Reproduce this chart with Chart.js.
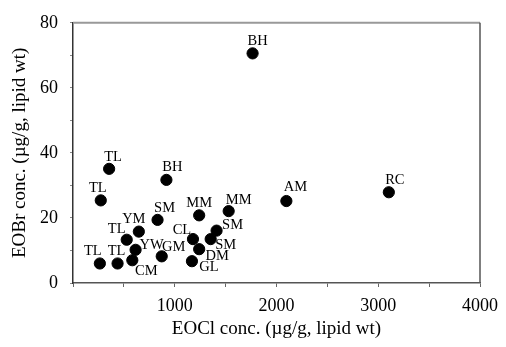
<!DOCTYPE html>
<html>
<head>
<meta charset="utf-8">
<script src="https://cdn.jsdelivr.net/npm/chart.js@4/dist/chart.umd.min.js"></script>
<style>
  html, body { margin: 0; padding: 0; background: #fff; }
  #wrap { width: 506px; height: 347px; }
</style>
</head>
<body>
<div id="wrap"><canvas id="chart" width="506" height="347"></canvas></div>
<script>
// site codes and concentrations (ug/g lipid wt)
const sites = ["BH", "TL", "BH", "TL", "SM", "MM", "MM", "YM", "TL", "SM", "SM",
               "CL", "YW", "DM", "GM", "TL", "TL", "CM", "GL", "AM", "RC"];
const eocl = [1765, 355, 918, 273, 831, 1240, 1530, 647, 528, 1411, 1353,
              1179, 615, 1240, 872, 264, 438, 583, 1169, 2097, 3104];
const eobr = [70.6, 35.1, 31.7, 25.4, 19.4, 20.8, 22.1, 15.8, 13.3, 16.1, 13.5,
              13.5, 10.2, 10.4, 8.2, 6.0, 6.0, 7.0, 6.7, 25.2, 27.9];
const xTickLabels = [1000, 2000, 3000, 4000];
const yTickLabels = [0, 20, 40, 60, 80];

// where each site label sits relative to its dot (px)
const labelOffsets = [[5, -12], [4, -12], [6, -13], [-3, -12], [7, -12], [0, -12], [10, -11],
  [-5, -12], [-10, -11], [16, -5], [15, 6], [-11, -9], [16, -5], [18, 7], [12, -9],
  [-7, -12], [-1, -12], [14, 11], [17, 6], [9, -14], [6, -12]];

const serif = "'Liberation Serif', 'DejaVu Serif', serif";

const points = eocl.map((x, i) => ({ x: x, y: eobr[i] }));

const frame = {
  id: "frame",
  beforeDatasetsDraw(chart) {
    const { ctx, chartArea: a } = chart;
    ctx.save();
    ctx.lineWidth = 2;
    ctx.strokeStyle = "#999";
    ctx.beginPath();
    ctx.moveTo(a.left, a.top);
    ctx.lineTo(a.right, a.top);
    ctx.stroke();
    ctx.strokeStyle = "#555";
    ctx.lineWidth = 1.5;
    ctx.beginPath();
    ctx.moveTo(a.right, a.top);
    ctx.lineTo(a.right, a.bottom);
    ctx.stroke();
    ctx.restore();
  }
};

const siteLabels = {
  id: "siteLabels",
  afterDatasetsDraw(chart) {
    const ctx = chart.ctx;
    const meta = chart.getDatasetMeta(0);
    ctx.save();
    ctx.font = "14.5px " + serif;
    ctx.fillStyle = "#000";
    ctx.textAlign = "center";
    ctx.textBaseline = "middle";
    meta.data.forEach((pt, i) => {
      const off = labelOffsets[i] || [0, -12];
      ctx.fillText(sites[i], pt.x + off[0], pt.y + off[1]);
    });
    ctx.restore();
  }
};

new Chart(document.getElementById("chart"), {
  type: "scatter",
  data: {
    datasets: [{
      data: points,
      backgroundColor: "#000",
      borderColor: "#000",
      borderWidth: 1,
      pointRadius: 5.6,
      pointHoverRadius: 5.6
    }]
  },
  options: {
    responsive: false,
    animation: false,
    layout: { padding: { top: 19, right: 18, left: 0, bottom: 0 } },
    plugins: {
      legend: { display: false },
      tooltip: { enabled: false }
    },
    scales: {
      x: {
        type: "linear",
        min: 0,
        max: 4000,
        afterFit: s => { s.height = 64; },
        border: { display: true, color: "#555", width: 1.5 },
        grid: { drawOnChartArea: false, drawTicks: true, tickLength: 4, color: "#666" },
        ticks: {
          stepSize: 500,
          autoSkip: false,
          maxRotation: 0,
          padding: 8,
          color: "#000",
          font: { family: serif, size: 18 },
          callback: v => xTickLabels.includes(v) ? String(v) : ""
        },
        title: {
          display: true,
          text: "EOCl conc. (\u00b5g/g, lipid wt)",
          color: "#000",
          font: { family: serif, size: 19 },
          padding: { top: 0, bottom: 7 }
        }
      },
      y: {
        type: "linear",
        min: 0,
        max: 80,
        afterFit: s => { s.width = 73; },
        border: { display: true, color: "#333", width: 1.5 },
        grid: { drawOnChartArea: false, drawTicks: true, tickLength: 3, color: "#888" },
        ticks: {
          stepSize: 10,
          autoSkip: false,
          padding: 12,
          color: "#000",
          font: { family: serif, size: 18 },
          callback: v => yTickLabels.includes(v) ? String(v) : ""
        },
        title: {
          display: true,
          text: "EOBr conc. (\u00b5g/g, lipid wt)",
          color: "#000",
          font: { family: serif, size: 19 },
          padding: { top: 9, bottom: 0 }
        }
      }
    }
  },
  plugins: [frame, siteLabels]
});
</script>
</body>
</html>
